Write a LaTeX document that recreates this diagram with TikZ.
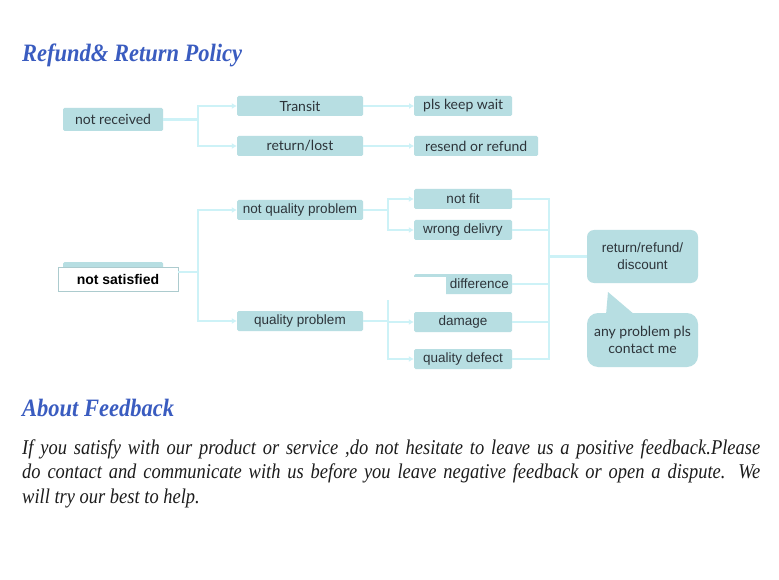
\documentclass[tikz,border=0pt]{standalone}
\usepackage{fontspec}
\setmainfont{Liberation Serif}
\newfontfamily\narrowserif[FakeStretch=0.9]{Liberation Serif}
\newfontfamily\bodyserif[FakeStretch=0.88]{Liberation Serif}
\newfontfamily\boxfont{Liberation Sans}
\newfontfamily\softfont{Lato}
\usetikzlibrary{arrows.meta,positioning}
\definecolor{titleblue}{RGB}{58,92,192}
\definecolor{boxteal}{RGB}{183,222,226}
\definecolor{linkcyan}{RGB}{205,242,247}
\definecolor{boxtext}{RGB}{45,52,58}
\definecolor{bodytext}{RGB}{28,28,28}
\tikzset{
  heading/.style={anchor=base west, inner sep=0pt, text=titleblue,
                  font=\narrowserif\fontsize{25}{28}\selectfont\bfseries\itshape},
  bodyline/.style={anchor=base west, inner sep=0pt, text=bodytext,
                   font=\bodyserif\fontsize{21}{24}\selectfont\itshape},
  tealbox/.style={fill=boxteal, rounded corners=1.5pt, inner sep=0pt,
                  minimum height=20pt, text=boxtext, align=center},
  stage/.style={tealbox, minimum width=126pt,
                font=\boxfont\fontsize{13.5}{15}\selectfont},
  leaf/.style={tealbox, minimum width=98pt,
               font=\boxfont\fontsize{13.5}{15}\selectfont},
  softleaf/.style={tealbox, font=\softfont\fontsize{14}{16}\selectfont},
  outcome/.style={tealbox, rounded corners=7pt, minimum width=111pt,
                  minimum height=53pt,
                  font=\boxfont\fontsize{13.5}{17}\selectfont},
  bubble/.style={outcome, rounded corners=11pt, minimum height=54pt,
                 font=\softfont\fontsize{14}{17}\selectfont},
  link/.style={linkcyan, line width=2.2pt},
  flow/.style={link, -{Latex[length=5pt,width=6pt]}},
}
\begin{document}
\begin{tikzpicture}[x=1pt,y=-1pt]
  \path[use as bounding box, fill=white] (0,0) rectangle (779,580);

  \node[heading] (policy) at (22,62) {Refund\& Return Policy};

  % not received branch
  \node[softleaf, minimum width=100pt, minimum height=23pt] (notrecv) at (113,119.5) {not received};
  \node[stage, font=\softfont\fontsize{14}{16}\selectfont] (transit) at (300,106) {Transit};
  \node[stage, font=\softfont\fontsize{14}{16}\selectfont] (lost) at (300,146) {return/lost};
  \node[softleaf, minimum width=98pt, anchor=west] (wait) at (414,106) {pls keep wait};
  \node[softleaf, minimum width=124pt, anchor=west] (resend) at (414,146) {resend or refund};
  \draw[flow] (notrecv.east) -- ++(35,0) |- (transit.west);
  \draw[flow] (notrecv.east) -- ++(35,0) |- (lost.west);
  \draw[flow] (transit.east) -- (wait.west);
  \draw[flow] (lost.east) -- (resend.west);

  % not satisfied branch
  \node[tealbox, minimum width=100pt, minimum height=24pt] (oldbox) at (113,274) {};
  \node[draw=boxteal!80!gray, fill=white, minimum width=120pt, minimum height=24pt,
        inner sep=0pt, font=\boxfont\fontsize{14}{16}\selectfont\bfseries]
        (unsatisfied) at (118,279) {not satisfied};
  \node[stage] (nonquality) at (300,210) {not quality problem};
  \node[stage] (quality) at (300,321) {quality problem};
  \draw[flow] (unsatisfied.east) ++(0,-7) -- ++(20,0) |- (nonquality.west);
  \draw[flow] (unsatisfied.east) ++(0,-7) -- ++(20,0) |- (quality.west);

  \node[leaf] (notfit) at (463,199) {not fit};
  \node[leaf] (wrong) at (463,230) {wrong delivry};
  \node[leaf, text width=92pt, align=right] (diff) at (463,284) {difference};
  \node[leaf] (damage) at (463,322) {damage};
  \node[leaf] (defect) at (463,359) {quality defect};
  \draw[flow] (nonquality.east) -- ++(25,0) |- (notfit.west);
  \draw[flow] (nonquality.east) -- ++(25,0) |- (wrong.west);
  \draw[flow] (quality.east) -- ++(25,0) |- (diff.west);
  \draw[flow] (quality.east) -- ++(25,0) |- (damage.west);
  \draw[flow] (quality.east) -- ++(25,0) |- (defect.west);
  % white patch over the hidden part
  \fill[white] (368,277) rectangle (446,300);

  \node[outcome] (refund) at (642.5,256.5) {return/refund/\\discount};
  \node[bubble] (contact) at (642.5,340) {any problem pls\\contact me};
  \fill[boxteal] (606,315) -- (608,292) -- (635,315) -- cycle;
  \coordinate (collect) at (549,256.5);
  \foreach \leafname in {notfit,wrong,diff,damage,defect}
    \draw[link] (\leafname.east) -| (collect);
  \draw[link] (collect) -- (refund.west);

  % feedback
  \node[heading] (feedback) at (22,416) {About Feedback};
  \node[bodyline] (line1) at (22,454) {\makebox[738pt][s]{If you satisfy with our product or service ,do not hesitate to leave us a positive feedback.Please}};
  \node[bodyline] (line2) at (22,478) {\makebox[738pt][s]{do contact and communicate with us before you leave negative feedback or open a dispute. We}};
  \node[bodyline] (line3) at (22,503) {will try our best to help.};
\end{tikzpicture}
\end{document}
